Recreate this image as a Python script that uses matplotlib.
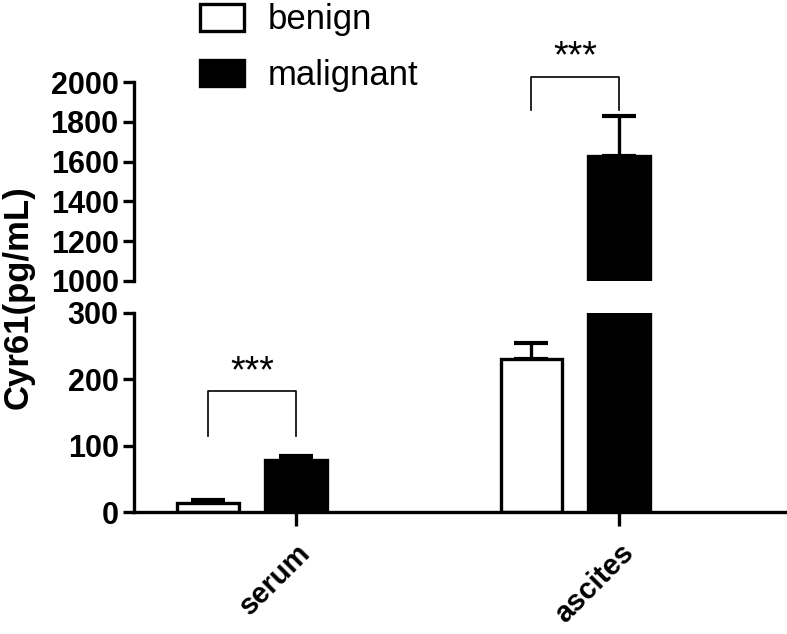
import numpy as np
from matplotlib import pyplot as plt

plt.rcParams["font.family"] = ["Liberation Sans", "DejaVu Sans"]

groups = ["serum", "ascites"]
benign_mean = [14, 230]
benign_err = [4, 25]
malignant_mean = [78, 1630]
malignant_err = [6, 200]

lower_ticks = [0, 100, 200, 300]
upper_ticks = [1000, 1200, 1400, 1600, 1800, 2000]

# significance brackets: (group, bracket top, leg bottom), one per axis segment
sig_lower = (0, 182, 115)
sig_upper = (1, 2025, 1860)

W, H = 787, 634
fig = plt.figure(figsize=(W / 100, H / 100), dpi=100)
ax_lo = fig.add_axes([134 / W, (H - 512) / H, (W - 134) / W, (512 - 313) / H])
ax_hi = fig.add_axes([134 / W, (H - 281) / H, (W - 134) / W, (281 - 82) / H])

x = np.arange(len(groups))
off = -0.2724
width = 0.189
LW = 2.4
TICK_FS = 22

for ax in (ax_lo, ax_hi):
    ax.bar(x + off, benign_mean, width, color="white", edgecolor="black", lw=LW, zorder=2)
    ax.bar(x, malignant_mean, width, color="black", edgecolor="black", lw=LW, zorder=2)
    ax.errorbar(x + off, benign_mean, yerr=[np.zeros(2), benign_err], fmt="none",
                ecolor="black", elinewidth=LW, capsize=12, capthick=3, zorder=1)
    ax.errorbar(x, malignant_mean, yerr=[np.zeros(2), malignant_err], fmt="none",
                ecolor="black", elinewidth=LW, capsize=12, capthick=3, zorder=1)
    ax.set_xlim(-0.5015, 1.520)
    ax.spines["top"].set_visible(False)
    ax.spines["right"].set_visible(False)
    ax.spines["left"].set_linewidth(LW)
    ax.spines["bottom"].set_linewidth(LW)
    ax.tick_params(axis="y", direction="out", length=8, width=LW, pad=3)

ax_lo.set_ylim(0, 300)
ax_lo.set_yticks(lower_ticks)
ax_lo.set_yticklabels([str(t) for t in lower_ticks], fontweight="bold", fontsize=TICK_FS)
ax_lo.set_xticks(x)
ax_lo.set_xticklabels(groups, rotation=45, ha="right", rotation_mode="anchor",
                      fontweight="bold", fontsize=21)
ax_lo.tick_params(axis="x", direction="out", length=10, width=LW, pad=9)

ax_hi.set_ylim(1000, 2000)
ax_hi.set_yticks(upper_ticks)
ax_hi.set_yticklabels([str(t) for t in upper_ticks], fontweight="bold", fontsize=TICK_FS)
ax_hi.spines["bottom"].set_visible(False)
ax_hi.set_xticks([])

for ax, (g, top, leg) in ((ax_lo, sig_lower), (ax_hi, sig_upper)):
    xl, xr = g + off, g
    ax.plot([xl, xl, xr, xr], [leg, top, top, leg], color="black", lw=1.2,
            clip_on=False, zorder=3)
    ax.annotate("***", ((xl + xr) / 2, top), xytext=(0, 1), textcoords="offset points",
                ha="center", va="bottom", fontsize=27, annotation_clip=False)

fig.text(18 / W, 1 - 297 / H, "Cyr61(pg/mL)", rotation=90, ha="center", va="center",
         fontsize=25, fontweight="bold")

h_b = plt.Rectangle((0, 0), 1, 1, facecolor="white", edgecolor="black", lw=LW)
h_m = plt.Rectangle((0, 0), 1, 1, facecolor="black", edgecolor="black", lw=LW)
fig.legend([h_b, h_m], ["benign", "malignant"], loc="upper left",
           bbox_to_anchor=(197 / W, 1.0), frameon=False, fontsize=25,
           handlelength=1.24, handleheight=0.8, handletextpad=0.7,
           labelspacing=0.65, borderaxespad=0, borderpad=0.1)

fig.savefig("out.png", dpi=100, facecolor="white")
